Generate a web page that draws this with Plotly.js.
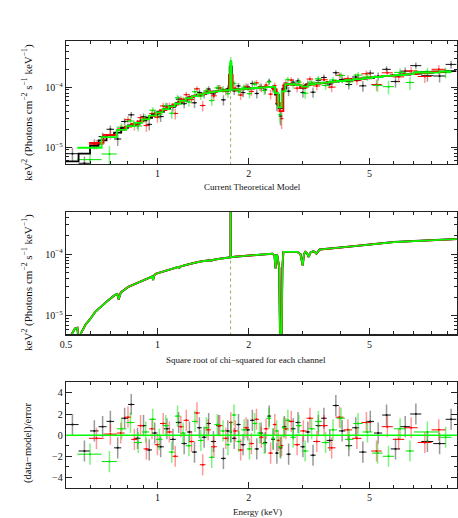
<!DOCTYPE html>
<html>
<head>
<meta charset="utf-8">
<script src="https://cdn.plot.ly/plotly-3.0.1.min.js"></script>
<style>body{margin:0;background:#fff}</style>
</head>
<body>
<div id="chart" style="width:458px;height:518px"></div>
<script>
// flux values in units of 1e-6 keV^2 (Photons cm^-2 s^-1 keV^-1)
const UNIT = 1e-6;

// ---------------- black spectrum ----------------
const blackEdges = [
  0.50, 0.55, 0.60, 0.64, 0.68, 0.72, 0.76, 0.80, 0.84, 0.88,
  0.92, 0.96, 1.00, 1.05, 1.10, 1.15, 1.20, 1.25, 1.30, 1.35,
  1.40, 1.45, 1.50, 1.56, 1.62, 1.68, 1.73, 1.76, 1.82, 1.88,
  1.95, 2.02, 2.09, 2.16, 2.23, 2.30, 2.37, 2.44, 2.51, 2.58,
  2.66, 2.75, 2.85, 2.96, 3.07, 3.19, 3.32, 3.46, 3.61, 3.78,
  3.96, 4.16, 4.38, 4.62, 4.88, 5.17, 5.50, 5.87, 6.30, 6.80,
  7.40, 8.10, 8.90, 9.65];
const blackFlux = [
  7.8, 5.4, 11.4, 15.0, 19.9, 13.7, 26.8, 34.6, 24.2, 32.1,
  24.0, 36.1, 32.4, 47.9, 46.2, 63.0, 53.2, 68.7, 55.0, 82.0,
  75.8, 93.1, 77.4, 96.8, 61.6, 94.2, 230.5, 87.1, 105, 81.3,
  101.5, 115.6, 78.8, 101.8, 90.2, 125.2, 95.4, 52.9, 33.0, 106.2,
  86.0, 121.0, 127.0, 81.5, 113.8, 82.6, 130.4, 145.2, 112.5, 174.4,
  134.2, 111.0, 148.0, 105.4, 171.6, 152.6, 198.6, 124.2, 185.4, 229.0,
  155.8, 153.8, 240.0];
const blackErr = [
  2.0, 1.6, 2.2, 2.5, 3.0, 3.2, 3.6, 4.0, 4.2, 4.5,
  5.0, 5.5, 6, 6.5, 7, 7.5, 8.5, 9, 10, 10,
  11, 11, 11, 12, 12, 13, 35, 13, 13, 13,
  13, 14, 14, 14, 14, 14, 14, 13, 10, 14,
  15, 15, 15, 15, 16, 16, 16, 17, 17, 18,
  18, 19, 20, 21, 22, 23, 24, 26, 28, 30,
  32, 34, 36];
const blackModel = [
  5.8, 7.8, 10.5, 13, 16, 17.5, 21, 23, 25.5, 28,
  31, 35, 39, 44, 49, 54, 60, 66, 71, 75,
  78, 81, 84, 86, 88, 89, 220, 91, 92, 93,
  95, 96, 97, 99, 100, 100, 101, 75, 45, 95,
  113, 112, 109, 98, 109, 113, 116, 118, 121, 124,
  127, 130, 134, 139, 143, 148, 153, 158, 163, 169,
  175, 181, 186];
const blackResid = [
  1.0, -1.5, 0.4, 0.8, 1.3, -1.2, 1.6, 2.9, -0.3, 0.9,
  -1.4, 0.2, -1.1, 0.6, -0.4, 1.2, -0.8, 0.3, -1.6, 0.7,
  -0.2, 1.1, -0.6, 0.9, -2.2, 0.4, 0.3, -0.3, 1.0, -0.9,
  0.5, 1.4, -1.3, 0.2, -0.7, 1.8, -0.4, -1.7, -1.2, 0.8,
  -1.8, 0.6, 1.2, -1.1, 0.3, -1.9, 0.9, 1.6, -0.5, 2.8,
  0.4, -1.0, 0.7, -1.6, 1.3, 0.2, 1.9, -1.3, 0.8, 2.0,
  -0.6, -0.8, 1.5];

// ---------------- red spectrum ----------------
const redEdges = [
  0.595, 0.665, 0.735, 0.78, 0.82, 0.86, 0.90, 0.94, 0.98, 1.02,
  1.07, 1.12, 1.17, 1.22, 1.27, 1.32, 1.38, 1.44, 1.50, 1.57,
  1.64, 1.72, 1.77, 1.84, 1.92, 2.00, 2.08, 2.16, 2.24, 2.32,
  2.40, 2.47, 2.53, 2.60, 2.70, 2.82, 2.95, 3.10, 3.26, 3.44,
  3.64, 3.86, 4.10, 4.38, 4.70, 5.06, 5.48, 5.96, 6.50, 7.20,
  8.00, 8.90];
const redFlux = [
  11.2, 16.3, 20.2, 28.8, 22.9, 31.1, 23.0, 36.3, 31.6, 48.7,
  48.6, 36.5, 63.4, 75.1, 62.3, 94.0, 49.5, 86.5, 71.9, 97.3,
  84.9, 190, 96.2, 74.3, 103.1, 85.1, 118, 96.2, 108.4, 76.7,
  106, 49.5, 30, 117, 131.5, 96.5, 105, 136.6, 104.8, 133.3,
  100.4, 158.3, 140, 128.7, 167.4, 111, 173.8, 148.8, 187, 150.9,
  199];
const redErr = [
  2.0, 3, 3.5, 4, 4, 4.5, 5, 5.5, 6, 6.5,
  7, 7.5, 8, 9, 9.5, 10, 10, 11, 11, 12,
  12, 25, 13, 13, 13, 13, 14, 14, 14, 14,
  14, 11, 10, 15, 15, 15, 15, 16, 17, 17,
  18, 19, 20, 21, 22, 24, 26, 28, 30, 33,
  36];
const redModel = [
  11.8, 16, 19.5, 22, 24.5, 27, 29.5, 33, 37, 41.5,
  46.5, 51.5, 57, 62.5, 68, 73, 77.5, 81, 84, 86.5,
  88.5, 160, 91, 92.5, 94, 95.5, 97, 99, 100, 100.5,
  92, 55, 40, 108, 112, 110, 99, 111, 115, 118,
  122, 126, 130, 135, 141, 147, 153, 160, 166, 174,
  181];
const redResid = [
  -0.3, 0.1, 0.2, 1.7, -0.4, 0.9, -1.3, 0.6, -0.9, 1.1,
  0.3, -2.0, 0.8, 1.4, -0.6, 2.1, -2.8, 0.5, -1.1, 0.9,
  -0.3, 1.2, 0.4, -1.4, 0.7, -0.8, 1.5, -0.2, 0.6, -1.7,
  1.0, -0.5, -1.0, 0.6, 1.3, -0.9, 0.4, 1.6, -0.6, 0.9,
  -1.2, 1.7, 0.5, -0.3, 1.2, -1.5, 0.8, -0.4, 0.7, -0.7,
  0.5];

// ---------------- green spectrum ----------------
const greenEdges = [
  0.545, 0.655, 0.735, 0.79, 0.84, 0.89, 0.94, 0.99, 1.04, 1.09,
  1.14, 1.19, 1.24, 1.30, 1.36, 1.42, 1.48, 1.54, 1.61, 1.68,
  1.735, 1.755, 1.82, 1.89, 1.97, 2.05, 2.13, 2.21, 2.29, 2.37,
  2.44, 2.50, 2.57, 2.64, 2.74, 2.86, 2.99, 3.14, 3.30, 3.48,
  3.68, 3.90, 4.15, 4.42, 4.74, 5.10, 5.52, 6.02, 6.58, 7.00,
  8.50, 9.30];
const greenFlux = [
  6.2, 7.7, 21.6, 27.3, 22.6, 30.4, 41.3, 35.6, 48.9, 36.8,
  66.5, 60.7, 56.5, 84, 71, 87.7, 59.9, 97.5, 92.3, 78.2,
  273.5, 115.7, 84.2, 100, 78.1, 112.4, 100.8, 88.3, 122.4, 96.8,
  85.2, 35, 94.1, 134, 109, 121.5, 79.5, 121.6, 138.1, 107.1,
  132, 157.4, 123, 159.1, 148.6, 107.2, 102, 176.8, 120, 183.4,
  175.8];
const greenErr = [
  2.0, 2.8, 3.5, 4, 4.2, 4.8, 5.2, 6, 6.5, 7,
  7.5, 8.5, 9, 10, 10, 11, 11, 12, 12, 12,
  45, 13, 13, 13, 13, 14, 14, 14, 14, 14,
  13, 10, 13, 15, 15, 15, 15, 16, 17, 17,
  18, 19, 20, 21, 22, 24, 26, 28, 30, 28,
  36];
const greenModel = [
  9.8, 14.7, 19.5, 22.5, 25.5, 29, 33.5, 38, 43, 48,
  53, 59, 65.5, 71, 76, 80, 83, 85.5, 87.5, 89,
  260, 91, 92, 93.5, 95, 97, 98, 99.5, 100, 101,
  80, 46, 85, 113, 112, 108, 102, 112, 116, 119,
  123, 127, 131, 136, 142, 148, 154, 160, 165, 175,
  183];
const greenResid = [
  -1.8, -2.5, 0.6, 1.2, -0.7, 0.3, 1.5, -0.4, 0.9, -1.6,
  1.8, 0.2, -1.0, 1.3, -0.5, 0.7, -2.1, 1.0, 0.4, -0.9,
  0.3, 1.9, -0.6, 0.5, -1.3, 1.1, 0.2, -0.8, 1.6, -0.3,
  0.4, -1.1, 0.7, 1.4, -0.2, 0.9, -1.5, 0.6, 1.3, -0.7,
  0.5, 1.6, -0.4, 1.1, 0.3, -1.7, -2.0, 0.6, -1.5, 0.3,
  -0.2];

// ---------------- theoretical model (middle panel) ----------------
const modelE = [
  0.50, 0.52, 0.535, 0.545, 0.55, 0.56, 0.58, 0.60, 0.624, 0.655,
  0.69, 0.725, 0.738, 0.745, 0.758, 0.802, 0.85, 0.886, 0.92, 0.951,
  0.962, 0.968, 0.975, 0.987, 1.03, 1.084, 1.13, 1.169, 1.18, 1.19,
  1.23, 1.292, 1.35, 1.40, 1.45, 1.502, 1.51, 1.52, 1.60, 1.68,
  1.7415, 1.742, 1.7425, 1.80, 1.90, 2.03, 2.20, 2.39, 2.43, 2.45,
  2.465, 2.48, 2.52, 2.55, 2.58, 2.60, 2.75, 2.89, 2.96, 3.01,
  3.04, 3.07, 3.11, 3.15, 3.19, 3.26, 3.30, 3.34, 3.42, 3.6,
  4.0, 4.5, 5.0, 5.5, 6.0, 7.0, 8.0, 9.0, 9.7];
const modelF = [
  4.2, 4.9, 6.2, 6.4, 4.0, 5.2, 7.2, 8.8, 11.6, 14.5,
  18.0, 21.8, 22.5, 18.5, 24.0, 29.5, 33.5, 36.5, 39.5, 42.8,
  43.5, 38.0, 45.0, 48.0, 51, 55, 58.5, 62, 60, 63,
  66, 71, 74, 76.5, 78.5, 80, 78.5, 80.5, 84, 87,
  89, 800, 89, 91, 93, 96, 99, 102, 96, 59,
  96, 97, 60, 0.3, 60, 109, 109, 109, 100, 66,
  100, 109, 104, 90, 106, 112, 108, 102, 119, 121,
  128, 136, 144, 151, 157, 163, 169, 174, 176];

// narrow line component (dashed)
const lineE = [1.742, 1.742];
const lineTop1 = [1, 91];
const lineTop2 = [1, 90];

const SERIF = 'Liberation Serif, Times New Roman, serif';

function binCenters(edges) { return edges.slice(0, -1).map((e, i) => (e + edges[i + 1]) / 2); }
function binHalf(edges) { return edges.slice(0, -1).map((e, i) => (edges[i + 1] - e) / 2); }
function scaled(arr) { return arr.map(v => v * UNIT); }

function dataTrace(edges, flux, err, col, barCol) {
  return {
    x: binCenters(edges), y: scaled(flux), type: 'scatter', mode: 'markers',
    marker: {size: 2, color: col},
    error_x: {type: 'data', array: binHalf(edges), color: col, thickness: 1, width: 0},
    error_y: {type: 'data', array: scaled(err), color: barCol, thickness: 1.5, width: 0},
    xaxis: 'x', yaxis: 'y', hoverinfo: 'skip'
  };
}
function stepTrace(edges, model, col, w) {
  return {
    x: edges, y: scaled(model.concat([model[model.length - 1]])), type: 'scatter', mode: 'lines',
    line: {shape: 'hv', color: col, width: w}, xaxis: 'x', yaxis: 'y', hoverinfo: 'skip'
  };
}
function residTrace(edges, resid, col, barCol) {
  return {
    x: binCenters(edges), y: resid, type: 'scatter', mode: 'markers',
    marker: {size: 2, color: col},
    error_x: {type: 'data', array: binHalf(edges), color: col, thickness: 1, width: 0},
    error_y: {type: 'constant', value: 1, color: barCol, thickness: 1.5, width: 0},
    xaxis: 'x3', yaxis: 'y3', hoverinfo: 'skip'
  };
}
function curveTrace(col, w) {
  return {x: modelE, y: scaled(modelF), type: 'scatter', mode: 'lines',
    line: {color: col, width: w}, xaxis: 'x2', yaxis: 'y2', hoverinfo: 'skip'};
}

const data = [
  dataTrace(blackEdges, blackFlux, blackErr, '#111', 'rgba(0,0,0,0.4)'),
  dataTrace(redEdges, redFlux, redErr, '#ff0000', 'rgba(255,0,0,0.4)'),
  dataTrace(greenEdges, greenFlux, greenErr, '#00e000', 'rgba(0,230,0,0.5)'),
  {x: lineE, y: scaled(lineTop1), type: 'scatter', mode: 'lines', line: {color: '#a8a860', width: 1, dash: 'dot'}, xaxis: 'x', yaxis: 'y', hoverinfo: 'skip'},
  stepTrace(blackEdges, blackModel, '#000', 1.8),
  stepTrace(redEdges, redModel, '#ff0000', 1.8),
  stepTrace(greenEdges, greenModel, '#00ff00', 1.8),

  {x: lineE, y: scaled(lineTop2), type: 'scatter', mode: 'lines', line: {color: '#a8a860', width: 1, dash: 'dot'}, xaxis: 'x2', yaxis: 'y2', hoverinfo: 'skip'},
  curveTrace('#000', 2.0),
  curveTrace('#ff0000', 1.8),
  curveTrace('#00ff00', 1.6),

  residTrace(blackEdges, blackResid, '#111', 'rgba(0,0,0,0.4)'),
  residTrace(redEdges, redResid, '#ff0000', 'rgba(255,0,0,0.4)'),
  residTrace(greenEdges, greenResid, '#00e000', 'rgba(0,230,0,0.5)')
];

const xMinor = [0.6, 0.7, 0.8, 0.9, 3, 4, 6, 7, 8, 9];
const yMinorLog = [6e-6, 7e-6, 8e-6, 9e-6, 2e-5, 3e-5, 4e-5, 5e-5, 6e-5, 7e-5, 8e-5, 9e-5, 2e-4, 3e-4, 4e-4, 5e-4];

const axisBase = {
  showline: true, linecolor: '#222', linewidth: 1.3, mirror: 'allticks',
  ticks: 'inside', ticklen: 6, tickwidth: 1, tickcolor: '#222',
  showgrid: false, zeroline: false,
  tickfont: {family: SERIF, size: 10, color: '#111'}
};
const xRange = [Math.log10(0.5), Math.log10(9.7)];

function xAxis(anchor, vals) {
  return Object.assign({}, axisBase, {
    type: 'log', range: xRange, anchor: anchor, domain: [0, 1],
    tickmode: 'array', tickvals: vals, ticktext: vals.map(String),
    minor: {ticks: 'inside', ticklen: 3, tickcolor: '#222', tickvals: xMinor, showgrid: false}
  });
}
function yLogAxis(anchor, range, domain) {
  return Object.assign({}, axisBase, {
    type: 'log', range: range, anchor: anchor, domain: domain,
    tickmode: 'array', tickvals: [1e-5, 1e-4],
    ticktext: ['10<sup>\u22125</sup>', '10<sup>\u22124</sup>'],
    minor: {ticks: 'inside', ticklen: 3, tickcolor: '#222', tickvals: yMinorLog, showgrid: false}
  });
}

const yTitle = 'keV<sup>2</sup> (Photons cm<sup>\u22122</sup> s<sup>\u22121</sup> keV<sup>\u22121</sup>)';
function note(text, x, y, angle, size) {
  return {text: text, textangle: angle, xref: 'paper', yref: 'paper', x: x, y: y,
          xanchor: 'center', yanchor: 'middle', borderpad: 0, showarrow: false, font: {size: size}};
}

const layout = {
  width: 458, height: 518,
  margin: {l: 66, r: 1, t: 0, b: 0},
  paper_bgcolor: '#fff', plot_bgcolor: '#fff',
  showlegend: false,
  font: {family: SERIF, size: 10, color: '#111'},
  xaxis: xAxis('y', [1, 2, 5]),
  xaxis2: xAxis('y2', [0.5, 1, 2, 5]),
  xaxis3: xAxis('y3', [1, 2, 5]),
  yaxis: yLogAxis('x', [-5.28, -3.23], [0.6834, 0.9208]),
  yaxis2: yLogAxis('x2', [-5.30, -3.32], [0.3546, 0.5902]),
  yaxis3: Object.assign({}, axisBase, {
    range: [-5, 5], anchor: 'x3', domain: [0.0579, 0.2620],
    tickmode: 'array', tickvals: [-4, -2, 0, 2, 4],
    minor: {ticks: 'inside', ticklen: 3, tickcolor: '#222', dtick: 1, showgrid: false}
  }),
  shapes: [{type: 'line', xref: 'x3 domain', yref: 'y3', x0: 0, x1: 1, y0: 0, y1: 0,
            line: {color: '#00ff00', width: 1.5}}],
  annotations: [
    note(yTitle, -0.097, 0.782, -90, 11),
    note(yTitle, -0.097, 0.454, -90, 11),
    note('(data\u2212model)/error', -0.097, 0.145, -90, 10.5),
    note('Current Theoretical Model', 0.476, 0.639, 0, 9),
    note('Square root of chi\u2212squared for each channel', 0.46, 0.305, 0, 9),
    note('Energy (keV)', 0.491, 0.0122, 0, 9)
  ]
};

Plotly.newPlot('chart', data, layout, {displayModeBar: false, staticPlot: true});
</script>
</body>
</html>
